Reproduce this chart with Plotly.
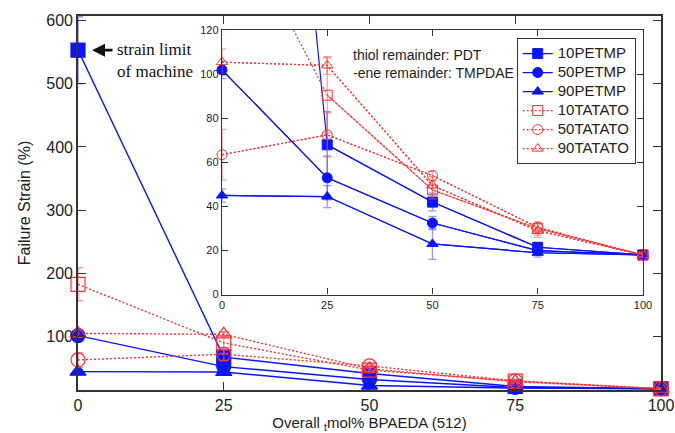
import plotly.graph_objects as go

# ---------------- data ----------------
x_vals = [0, 25, 50, 75, 100]
series_names = ["10PETMP", "50PETMP", "90PETMP", "10TATATO", "50TATATO", "90TATATO"]
petmp10 = [553, 68, 42, 21.5, 18]
petmp50 = [102, 53, 32.5, 20, 18]
petmp90 = [45, 44.5, 23, 19, 18]
tatato10 = [183, 90.5, 47.5, 30, 18]
tatato50 = [63.5, 72.5, 54, 30.5, 18]
tatato90 = [105.5, 104, 49.5, 29, 18]
petmp10_err = [53, 15, 4, 2, 1]
petmp50_err = [4, 10, 3, 2, 1]
petmp90_err = [3, 5, 7, 2, 1]
tatato10_err = [26, 17, 4, 3, 1]
tatato50_err = [11.5, 10, 2, 2, 1]
tatato90_err = [6, 4, 4, 3, 1]
main_xticks = [0, 25, 50, 75, 100]
main_yticks = [100, 200, 300, 400, 500, 600]
inset_yticks = [0, 20, 40, 60, 80, 100, 120]

BLUE = "#0A14FF"
BLUE_ERR = "rgba(60,70,255,0.55)"
RED = "#FF3030"
RED_ERR = "rgba(255,90,90,0.6)"
DOT = "2px,2px"

styles = [
    dict(color=BLUE, err=BLUE_ERR, sym="square", dash="solid"),
    dict(color=BLUE, err=BLUE_ERR, sym="circle", dash="solid"),
    dict(color=BLUE, err=BLUE_ERR, sym="triangle-up", dash="solid"),
    dict(color=RED, err=RED_ERR, sym="square-open", dash=DOT),
    dict(color=RED, err=RED_ERR, sym="circle-open", dash=DOT),
    dict(color=RED, err=RED_ERR, sym="triangle-up-open", dash=DOT),
]
ys = [petmp10, petmp50, petmp90, tatato10, tatato50, tatato90]
errs = [petmp10_err, petmp50_err, petmp90_err, tatato10_err, tatato50_err, tatato90_err]

INSET_MAX = 120

fig = go.Figure()

# main plot traces
for name, y, e, st in zip(series_names, ys, errs, styles):
    fig.add_trace(go.Scatter(
        x=x_vals, y=y, mode="lines+markers", name=name, showlegend=False,
        line=dict(color=st["color"], width=1.4, dash=st["dash"]),
        marker=dict(symbol=st["sym"], size=14, color=st["color"],
                    line=dict(color=st["color"], width=1.2)),
        error_y=dict(type="data", array=e, color=st["err"], thickness=1.5, width=5),
        cliponaxis=False, xaxis="x", yaxis="y"))

# inset: full lines (clipped)
for name, y, st in zip(series_names, ys, styles):
    fig.add_trace(go.Scatter(
        x=x_vals, y=y, mode="lines", showlegend=False, hoverinfo="skip",
        line=dict(color=st["color"], width=1.2, dash=st["dash"]),
        xaxis="x2", yaxis="y2"))

# inset: markers within range
for name, y, e, st in zip(series_names, ys, errs, styles):
    xi = [xv for xv, yv in zip(x_vals, y) if yv <= INSET_MAX]
    yi = [yv for yv in y if yv <= INSET_MAX]
    ei = [ev for ev, yv in zip(e, y) if yv <= INSET_MAX]
    fig.add_trace(go.Scatter(
        x=xi, y=yi, mode="lines+markers",
        name='<span style="font-size:15px">' + name + '</span>', showlegend=True,
        line=dict(color=st["color"], width=1.2, dash=st["dash"]),
        marker=dict(symbol=st["sym"], size=10, color=st["color"],
                    line=dict(color=st["color"], width=1)),
        error_y=dict(type="data", array=ei, color=st["err"], thickness=1.3, width=4),
        cliponaxis=False, xaxis="x2", yaxis="y2"))

axis_common = dict(showgrid=False, zeroline=False, showline=True, linecolor="#333",
                   mirror="ticks", ticks="inside", tickcolor="#333", automargin=False)

fig.update_layout(
    width=675, height=433,
    margin=dict(l=78, r=14, t=16, b=43),
    paper_bgcolor="white", plot_bgcolor="white",
    font=dict(family="Liberation Sans, Arial, sans-serif", color="#222"),
    xaxis=dict(**axis_common, range=[0, 100], tickvals=main_xticks, ticklen=8, linewidth=1.6,
               tickwidth=1.4, tickfont=dict(size=16),
               title=dict(text="Overall <sub>t</sub>mol% BPAEDA (512)", font=dict(size=15), standoff=4)),
    yaxis=dict(**axis_common, range=[16, 607], tickvals=main_yticks, ticklen=8, linewidth=1.6,
               tickwidth=1.4, tickfont=dict(size=16),
               title=dict(text="Failure Strain (%)", font=dict(size=16), standoff=12)),
    xaxis2=dict(**axis_common, range=[0, 100], domain=[0.247, 0.969], anchor="y2",
                tickvals=main_xticks, ticklen=6, linewidth=1.4, tickwidth=1.2,
                tickfont=dict(size=11)),
    yaxis2=dict(**axis_common, range=[0, 120], domain=[0.255, 0.962], anchor="x2",
                tickvals=inset_yticks, ticklen=6, linewidth=1.4, tickwidth=1.2,
                tickfont=dict(size=11)),
    legend=dict(x=0.7525, y=0.941, xanchor="left", yanchor="top",
                bordercolor="#333", borderwidth=1, bgcolor="white",
                font=dict(size=12, color="#222"), tracegroupgap=0),
)

# inset background (drawn below traces)
fig.add_shape(type="rect", xref="x2 domain", yref="y2 domain", x0=0, x1=1, y0=0, y1=1,
              fillcolor="white", line=dict(width=0), layer="below")

fig.add_annotation(x=30.6, y=104.8, xref="x2", yref="y2", xanchor="left", yanchor="middle",
                   align="left", showarrow=False,
                   text="thiol remainder: PDT<br>-ene remainder: TMPDAE",
                   font=dict(size=14, color="#222"))

fig.add_annotation(x=0.0635, y=536, xref="paper", yref="y", xanchor="left", yanchor="middle",
                   align="left", showarrow=False,
                   text="strain limit<br>of machine",
                   font=dict(size=17, color="#111", family="Liberation Serif, Times New Roman, serif"))

fig.add_annotation(x=0.024, y=553, xref="paper", yref="y", text="", showarrow=True,
                   ax=22, ay=0, arrowhead=2, arrowsize=1, arrowwidth=2.6, arrowcolor="#111")

fig.write_html("out.html", config={"displayModeBar": False},
               post_script="document.body.style.margin='0';document.body.style.padding='0';")
